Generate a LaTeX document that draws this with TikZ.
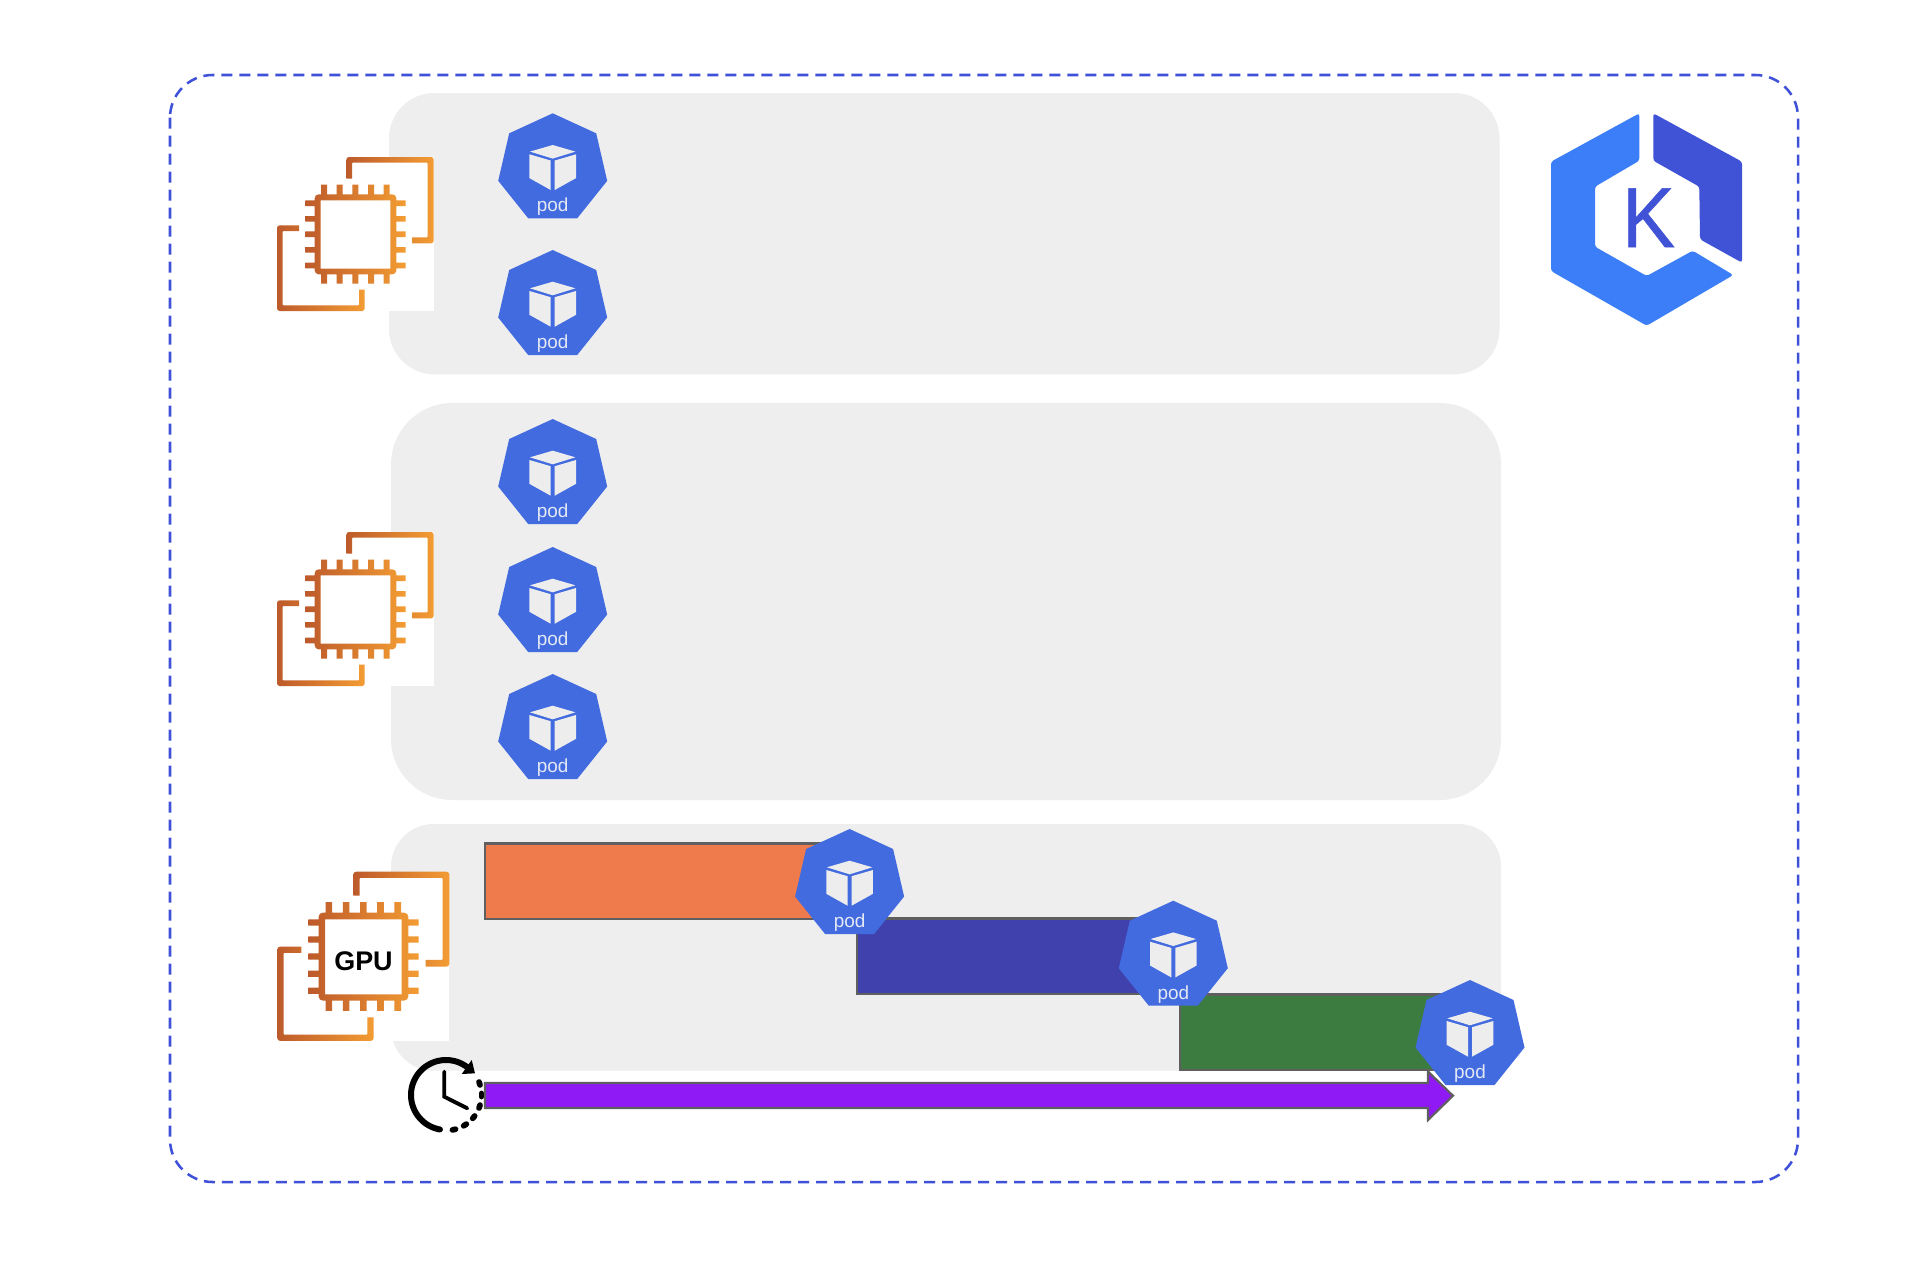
\documentclass[tikz,border=0pt]{standalone}
\usepackage{fontspec}
\setmainfont{Liberation Sans}
\newfontfamily\kfont[FakeBold=0.6,FakeStretch=0.93]{Liberation Sans}
\definecolor{panel}{HTML}{EEEEEE}
\definecolor{podblue}{HTML}{426BDF}
\definecolor{podlight}{HTML}{E3E8F5}
\definecolor{podcube}{HTML}{EDEDED}
\definecolor{dashblue}{HTML}{3F51D9}
\definecolor{kblue}{HTML}{3B7EF7}
\definecolor{kdark}{HTML}{4053D6}
\definecolor{iconL}{HTML}{BD5A2B}
\definecolor{iconR}{HTML}{F39C33}
\definecolor{barorange}{HTML}{EF7B4D}
\definecolor{barblue}{HTML}{4141AE}
\definecolor{bargreen}{HTML}{3C7C41}
\definecolor{barpurple}{HTML}{8F1AF5}
\definecolor{barline}{HTML}{5F5F5F}
\tikzset{
  panelbox/.style={fill=panel,draw=none},
  gridbar/.style={draw=barline,line width=1.6pt,line join=miter},
  icongrad/.style={left color=iconL,right color=iconR},
  podface/.style={fill=podcube,draw=none},
  podlabel/.style={text=podlight,font=\fontsize{14.2}{14.2}\selectfont,inner sep=0pt,anchor=base},
}
\newcommand{\podicon}[3]{% name, x, y of top vertex
  \begin{scope}[shift={(#2,#3)}]
    \fill[podblue] (0,0) -- (43.5,20) -- (54.5,67.5) -- (24.5,105) -- (-24.5,105) -- (-54.5,67.5) -- (-43.5,20) -- cycle;
    \fill[podface] (0,31.7) -- (22.7,38.3) -- (0,45.3) -- (-22.7,38.3) -- cycle;
    \fill[podface] (-23.3,41) -- (-2,47.2) -- (-2,76.7) -- (-23.3,64.8) -- cycle;
    \fill[podface] (23.3,41) -- (2,47.2) -- (2,76.7) -- (23.3,64.8) -- cycle;
    \node[podlabel] (#1) at (0,98.6) {pod};
  \end{scope}
}
\newcommand{\cpuicon}[3]{% x, y of top-left, scale
  \begin{scope}[shift={(#1,#2)},x=#3*0.25pt,y=-#3*0.25pt]
    \fill[white] (0,0) rectangle (470,462);
    % back piece
    \shade[icongrad] (208,65) [rounded corners=2pt] -- (208,0) -- (470,0) -- (470,259) [sharp corners] -- (405,259) -- (405,241) [rounded corners=0.5pt] -- (452,241) -- (452,17) -- (225,17) [sharp corners] -- (225,65) -- cycle;
    % front piece
    \shade[icongrad] (66,205) [rounded corners=2pt] -- (0,205) -- (0,462) -- (263,462) [sharp corners] -- (263,398) -- (246,398) [rounded corners=0.5pt] -- (246,445) -- (17,445) -- (17,222) [sharp corners] -- (66,222) -- cycle;
    % chip
    \shade[icongrad]
      (113,112) [rounded corners=3pt] -- (113,352) -- (358,352) -- (358,112) -- cycle
      [sharp corners] (131,130) -- (340,130) -- (340,335) -- (131,335) -- cycle
      (132,83) rectangle (150,114) (179,83) rectangle (197,114) (226,83) rectangle (244,114) (273,83) rectangle (291,114) (320,83) rectangle (338,114)
      (132,350) rectangle (150,380) (179,350) rectangle (197,380) (226,350) rectangle (244,380) (273,350) rectangle (291,380) (320,350) rectangle (338,380)
      (85,130) rectangle (115,147) (85,177) rectangle (115,194) (85,223) rectangle (115,240) (85,270) rectangle (115,287) (85,317) rectangle (115,334)
      (356,130) rectangle (386,147) (356,177) rectangle (386,194) (356,223) rectangle (386,240) (356,270) rectangle (386,287) (356,317) rectangle (386,334);
  \end{scope}
}
\begin{document}
\begin{tikzpicture}[x=0.75pt,y=-0.75pt]
\useasboundingbox (0,0) rectangle (1932,1272);
\fill[white] (0,0) rectangle (1932,1272);
% outer dashed frame
\draw[dashblue,line width=1.9pt,dash pattern=on 8.25pt off 5.25pt,rounded corners=32pt] (170,75) rectangle (1798,1182);
% panels
\fill[panelbox,rounded corners=34pt] (389,93) rectangle (1499.5,374.3);
\fill[panelbox,rounded corners=46pt] (391,403) rectangle (1501,800);
\fill[panelbox,rounded corners=32pt] (391,824) rectangle (1501,1070.7);
% bars
\draw[gridbar,fill=barorange] (485,843.5) rectangle (840,919);
\draw[gridbar,fill=barblue] (857,918.5) rectangle (1160,994);
\draw[gridbar,fill=bargreen] (1180,994.5) rectangle (1460,1070);
\draw[gridbar,fill=barpurple] (485,1083) -- (1428,1083) -- (1428,1071.5) -- (1453,1095.7) -- (1428,1120) -- (1428,1108) -- (485,1108) -- cycle;
% cpu icons
\cpuicon{277}{157}{1}
\cpuicon{277}{532}{1}
\cpuicon{277.3}{871.7}{1.098}
\node[font=\bfseries\fontsize{20.2}{20.2}\selectfont,inner sep=0pt,anchor=base,text=black] (gpu) at (363.5,970) {GPU};
% pods
\podicon{p1}{552.7}{113.3}
\podicon{p2}{552.7}{250}
\podicon{p3}{552.7}{419}
\podicon{p4}{552.7}{547}
\podicon{p5}{552.7}{674}
\podicon{p6}{849.6}{829}
\podicon{p7}{1173.3}{900.7}
\podicon{p8}{1470}{980}
% clock
\begin{scope}[shift={(446,1095)}]
  \draw[black,line width=4.5pt,line cap=round] plot[domain=100:308,samples=70,smooth] ({35*cos(\x)},{35*sin(\x)});
  \fill[black] (29,-21.7) -- (15.7,-21) -- (25.7,-35) -- cycle;
  \draw[black,line width=2.9pt,line cap=round,line join=miter] (-1.7,-23.3) -- (-1.7,1.7) -- (21.3,13.3);
  \foreach \a in {341,0,19,38.7,57.6,77}{
    \draw[black,line width=4.3pt,line cap=round] ({\a-2.5}:35.5) -- ({\a+2.5}:35.5);
  }
\end{scope}
% kubernetes logo
\fill[kblue,rounded corners=2pt] (1639.3,113.3) -- (1639.3,160.7) -- (1595,186.7) -- (1595,246.7) -- (1646.7,276) -- (1692.7,250.7) -- (1733.3,275) -- (1646.7,325.7) -- (1551,271) -- (1551,161.7) -- cycle;
\fill[kdark,rounded corners=2pt] (1653.3,113.3) -- (1742,161.7) -- (1742,262.7) -- (1700,239.3) -- (1699.3,186.7) -- (1653.3,160.7) -- cycle;
\node[text=kdark,font=\kfont\fontsize{64}{64}\selectfont,inner sep=0pt,anchor=base] (k) at (1648.5,247) {K};
\end{tikzpicture}
\end{document}
